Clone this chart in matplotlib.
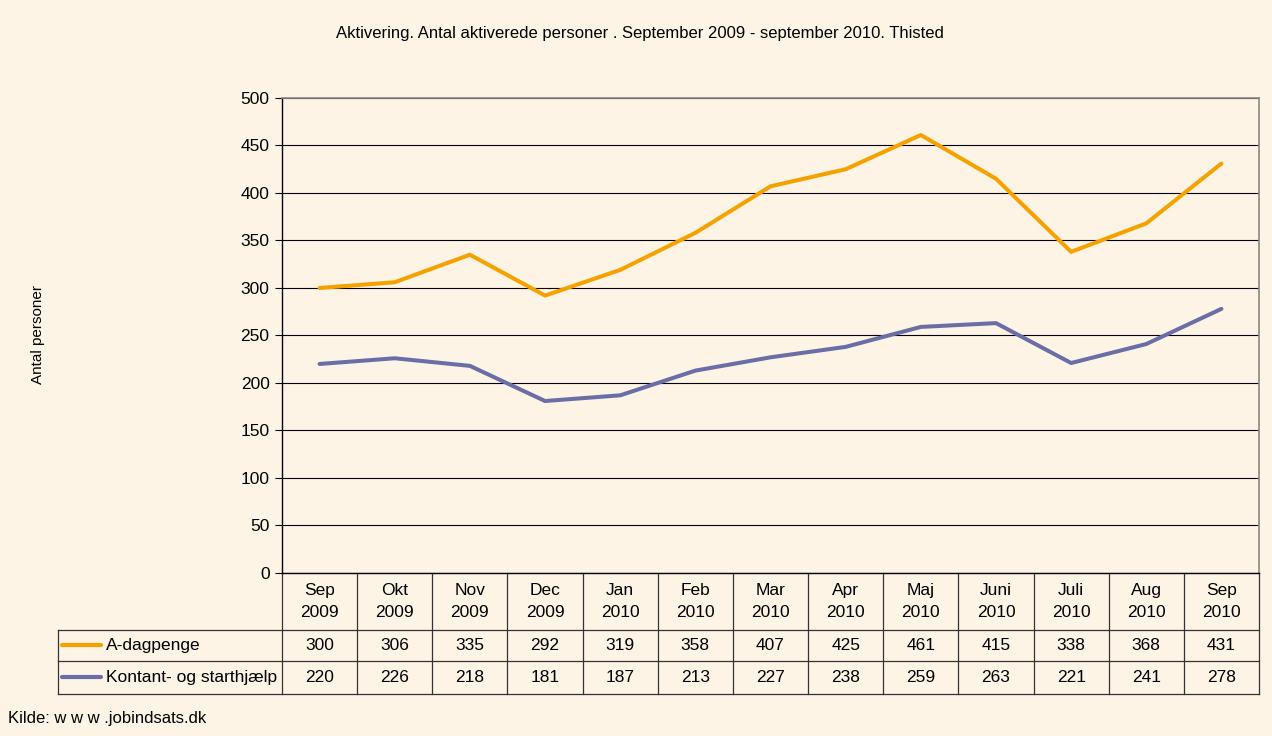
import numpy as np
import matplotlib
matplotlib.use('Agg')
from matplotlib import pyplot as plt
from matplotlib.lines import Line2D

plt.rcParams['font.family'] = ['Liberation Sans', 'DejaVu Sans']

months = ['Sep\n2009', 'Okt\n2009', 'Nov\n2009', 'Dec\n2009', 'Jan\n2010', 'Feb\n2010',
          'Mar\n2010', 'Apr\n2010', 'Maj\n2010', 'Juni\n2010', 'Juli\n2010', 'Aug\n2010',
          'Sep\n2010']
a_dagpenge = [300, 306, 335, 292, 319, 358, 407, 425, 461, 415, 338, 368, 431]
kontant = [220, 226, 218, 181, 187, 213, 227, 238, 259, 263, 221, 241, 278]
series_names = ['A-dagpenge', 'Kontant- og starthjælp']
series_colors = ['#F5A200', '#6A6EA6']

bg = '#FDF4E6'
fs = 12.5
fig = plt.figure(figsize=(12.72, 7.36), dpi=100, facecolor=bg)
ax = fig.add_axes([0.2217, 0.2215, 0.7681, 0.6454], facecolor=bg)

x = np.arange(len(months))
for vals, c in zip([a_dagpenge, kontant], series_colors):
    ax.plot(x, vals, color=c, linewidth=2.9, solid_capstyle='round', solid_joinstyle='round', zorder=3)

ax.set_xlim(-0.5, len(months) - 0.5)
ax.set_ylim(0, 500)
ax.set_yticks(np.arange(0, 501, 50))
ax.tick_params(axis='y', labelsize=fs, length=5, width=0.8, direction='out', pad=4)
ax.set_xticks([])
ax.grid(axis='y', color='black', linewidth=0.8)
ax.set_axisbelow(True)
for s in ['top', 'right']:
    ax.spines[s].set_color('#888888')
    ax.spines[s].set_linewidth(1.2)
for s in ['left', 'bottom']:
    ax.spines[s].set_color('black')
    ax.spines[s].set_linewidth(1.0)

# Table under the chart
tr = ax.get_xaxis_transform()
h_hdr = -0.12
h_r1 = -0.1853
h_r2 = -0.2547
x_left = -0.2293  # axes fraction
line_kw = dict(color='#333333', linewidth=0.9, clip_on=False)

for k in range(len(months) + 1):
    ax.add_line(Line2D([k - 0.5, k - 0.5], [0, h_r2], transform=tr, **line_kw))
ax.add_line(Line2D([x_left, 1], [h_hdr, h_hdr], transform=ax.transAxes, **line_kw))
ax.add_line(Line2D([x_left, 1], [h_r1, h_r1], transform=ax.transAxes, **line_kw))
ax.add_line(Line2D([x_left, 1], [h_r2, h_r2], transform=ax.transAxes, **line_kw))
ax.add_line(Line2D([x_left, x_left], [h_hdr, h_r2], transform=ax.transAxes, **line_kw))

for k, m in enumerate(months):
    ax.text(k, h_hdr / 2, m, transform=tr, ha='center', va='center', fontsize=fs,
            linespacing=1.55)
for row, (vals, y0, y1) in enumerate([(a_dagpenge, h_hdr, h_r1), (kontant, h_r1, h_r2)]):
    yc = (y0 + y1) / 2
    for k, v in enumerate(vals):
        ax.text(k, yc, str(v), transform=tr, ha='center', va='center', fontsize=fs)
    ax.add_line(Line2D([x_left + 0.004, x_left + 0.044], [yc, yc], transform=ax.transAxes,
                       color=series_colors[row], linewidth=3.0, solid_capstyle='round',
                       clip_on=False))
    ax.text(x_left + 0.049, yc, series_names[row], transform=ax.transAxes, ha='left',
            va='center', fontsize=fs)

fig.text(0.503, 0.955, 'Aktivering. Antal aktiverede personer . September 2009 - september 2010. Thisted',
         ha='center', va='center', fontsize=12)
fig.text(0.030, 0.545, 'Antal personer', rotation=90, ha='center', va='center', fontsize=11)
fig.text(0.006, 0.024, 'Kilde: w w w .jobindsats.dk', ha='left', va='center', fontsize=12)

fig.savefig('out.png', dpi=100, facecolor=bg)
